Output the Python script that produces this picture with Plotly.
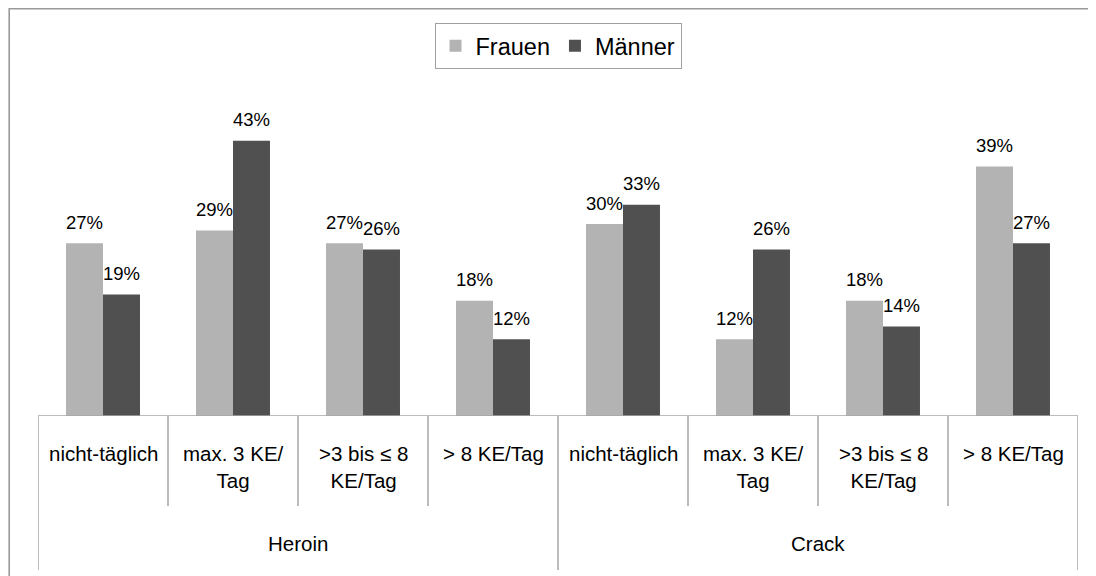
import plotly.graph_objects as go

# ---- data ----
groups = ["Heroin", "Crack"]
subcats = ["nicht-täglich", "max. 3 KE/<br>Tag", ">3 bis ≤ 8<br>KE/Tag", "> 8 KE/Tag"]
categories = [s for g in groups for s in subcats]
frauen = [27, 29, 27, 18, 30, 12, 18, 39]
maenner = [19, 43, 26, 12, 33, 26, 14, 27]
series_names = ["Frauen", "Männer"]

# ---- styles ----
OFF = 8                   # page body margin offset
W, H = 1096 - OFF, 576 - OFF
ML, MR, MT, MB = 38 - OFF, 18, 128 - OFF, 160
PW = W - ML - MR        # 1040
PH = H - MT - MB        # 288
FONT = "Arial, Liberation Sans, sans-serif"
C_F = "#b3b3b3"
C_M = "#505050"
LINE = "#a6a6a6"
BARGAP = 0.431

xs = list(range(len(categories)))
fig = go.Figure()
fig.add_trace(go.Bar(x=xs, y=frauen, name=series_names[0], marker=dict(color=C_F, line=dict(width=0))))
fig.add_trace(go.Bar(x=xs, y=maenner, name=series_names[1], marker=dict(color=C_M, line=dict(width=0))))

def py(ry):
    """reference pixel y -> paper y"""
    return (H - MB - (ry - OFF)) / PH

def px_(rx):
    return (rx - OFF - ML) / PW

half = (1 - BARGAP) / 4  # offset of each bar centre from category centre
annotations = []
for i in xs:
    for val, off in ((frauen[i], -half), (maenner[i], half)):
        annotations.append(dict(x=i + off, y=val, xref="x", yref="y", text=f"{val}%",
                                showarrow=False, yanchor="middle", yshift=21,
                                font=dict(family=FONT, size=18.5, color="#000")))
    annotations.append(dict(x=i, y=py(440), xref="x", yref="paper", text=categories[i],
                            showarrow=False, yanchor="top", xanchor="center",
                            font=dict(family=FONT, size=20.5, color="#000")))
n_sub = len(subcats)
for gi, g in enumerate(groups):
    annotations.append(dict(x=gi * n_sub + (n_sub - 1) / 2, y=py(543), xref="x", yref="paper",
                            text=g, showarrow=False, yanchor="middle",
                            font=dict(family=FONT, size=20.5, color="#000")))

shapes = []
# outer chart border (top + left visible)
shapes.append(dict(type="rect", xref="paper", yref="paper", x0=px_(9.2), x1=px_(1110),
                   y0=py(590), y1=py(8.8), line=dict(color="#9a9a9a", width=1.6)))
# category axis baseline
shapes.append(dict(type="line", xref="x", yref="y", x0=-0.5, x1=len(xs) - 0.5, y0=0, y1=0,
                   line=dict(color=LINE, width=1.5)))
for k in range(len(xs) + 1):
    bottom = 570 if k % n_sub == 0 else 506
    shapes.append(dict(type="line", xref="x", yref="paper", x0=k - 0.5, x1=k - 0.5,
                       y0=0, y1=py(bottom), line=dict(color=LINE, width=1.5)))

fig.update_layout(
    width=W, height=H,
    margin=dict(l=ML, r=MR, t=MT, b=MB),
    paper_bgcolor="white", plot_bgcolor="white",
    barmode="group", bargap=BARGAP, bargroupgap=0,
    xaxis=dict(visible=False, range=[-0.5, len(xs) - 0.5], fixedrange=True),
    yaxis=dict(visible=False, range=[0, PH / 6.4], fixedrange=True),
    showlegend=True,
    legend=dict(orientation="h", x=0.5, xanchor="center", y=py(23), yanchor="top",
                bordercolor="#a0a0a0", borderwidth=1, bgcolor="white",
                font=dict(family=FONT, size=23.5, color="#000"), itemwidth=30),
    annotations=annotations, shapes=shapes,
    font=dict(family=FONT),
)
fig.write_html("out.html")
